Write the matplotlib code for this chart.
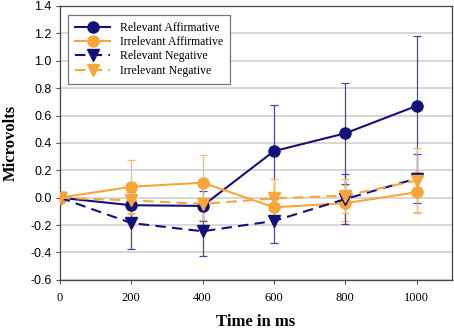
import matplotlib
matplotlib.use('agg')
import matplotlib.pyplot as plt

# data
times = [0, 200, 400, 600, 800, 1000]
rel_aff = [0, -0.055, -0.06, 0.34, 0.47, 0.67]
rel_aff_err = [0, 0.10, 0.11, 0.335, 0.37, 0.51]
irr_aff = [0, 0.08, 0.11, -0.07, -0.04, 0.04]
irr_aff_err = [0, 0.195, 0.20, 0.08, 0.13, 0.145]
rel_neg = [0, -0.185, -0.245, -0.17, -0.01, 0.14]
rel_neg_err = [0, 0.19, 0.18, 0.16, 0.18, 0.18]
irr_neg = [0, -0.02, -0.045, -0.005, 0.015, 0.125]
irr_neg_err = [0, 0.10, 0.12, 0.14, 0.125, 0.235]

navy = '#12127a'
navy_err = '#4848a8'
orange = '#f8a53a'
orange_err = '#f9b860'

serif = 'Liberation Serif'
sans = 'Liberation Sans'

fig = plt.figure(figsize=(4.54, 3.32), dpi=100)
ax = fig.add_axes([0.132, 0.157, 0.864, 0.825])

series = [
    (rel_aff, rel_aff_err, 'Relevant Affirmative', navy, navy_err, 'o', '-'),
    (irr_aff, irr_aff_err, 'Irrelevant Affirmative', orange, orange_err, 'o', '-'),
    (rel_neg, rel_neg_err, 'Relevant Negative', navy, navy_err, 'v', (0, (5, 3))),
    (irr_neg, irr_neg_err, 'Irrelevant Negative', orange, orange_err, 'v', (0, (5, 3))),
]

# error bars first, underneath the lines
for ys, errs, label, col, ecol, mk, ls in series:
    ax.errorbar(times, ys, yerr=errs, fmt='none', ecolor=ecol,
                elinewidth=0.9, capsize=3, capthick=0.9, zorder=2)

for ys, errs, label, col, ecol, mk, ls in series:
    ax.plot(times, ys, color=col, marker=mk, linestyle=ls, linewidth=1.5,
            markersize=8, label=label, zorder=3)

ax.set_xlim(0, 1100)
ax.set_ylim(-0.6, 1.4)
ax.set_xticks(times)
ax.set_yticks([-0.6 + 0.2 * i for i in range(11)])
ax.set_yticklabels(['%.1f' % (-0.6 + 0.2 * i) for i in range(11)],
                   fontfamily=sans, fontsize=9)
ax.set_xticklabels([str(t) for t in times], fontfamily=serif, fontsize=9)
ax.tick_params(axis='both', length=3, width=0.8, color='#555555', pad=3)
ax.tick_params(axis='x', pad=6)

ax.grid(axis='y', color='#d4d4d4', linewidth=1.3)
ax.set_axisbelow(True)
for sp in ax.spines.values():
    sp.set_color('#444444')
    sp.set_linewidth(0.9)

ax.set_xlabel('Time in ms', fontfamily=serif, fontweight='bold', fontsize=12, labelpad=7)
ax.set_ylabel('Microvolts', fontfamily=serif, fontweight='bold', fontsize=12, labelpad=8)

leg = ax.legend(loc='upper left', bbox_to_anchor=(0.005, 0.99), fancybox=False,
                prop={'family': serif, 'size': 8.5}, handlelength=3.0,
                labelspacing=0.2, borderpad=0.6, edgecolor='#777777',
                framealpha=1)
leg.get_frame().set_linewidth(0.9)

fig.savefig('out.png', dpi=100)
